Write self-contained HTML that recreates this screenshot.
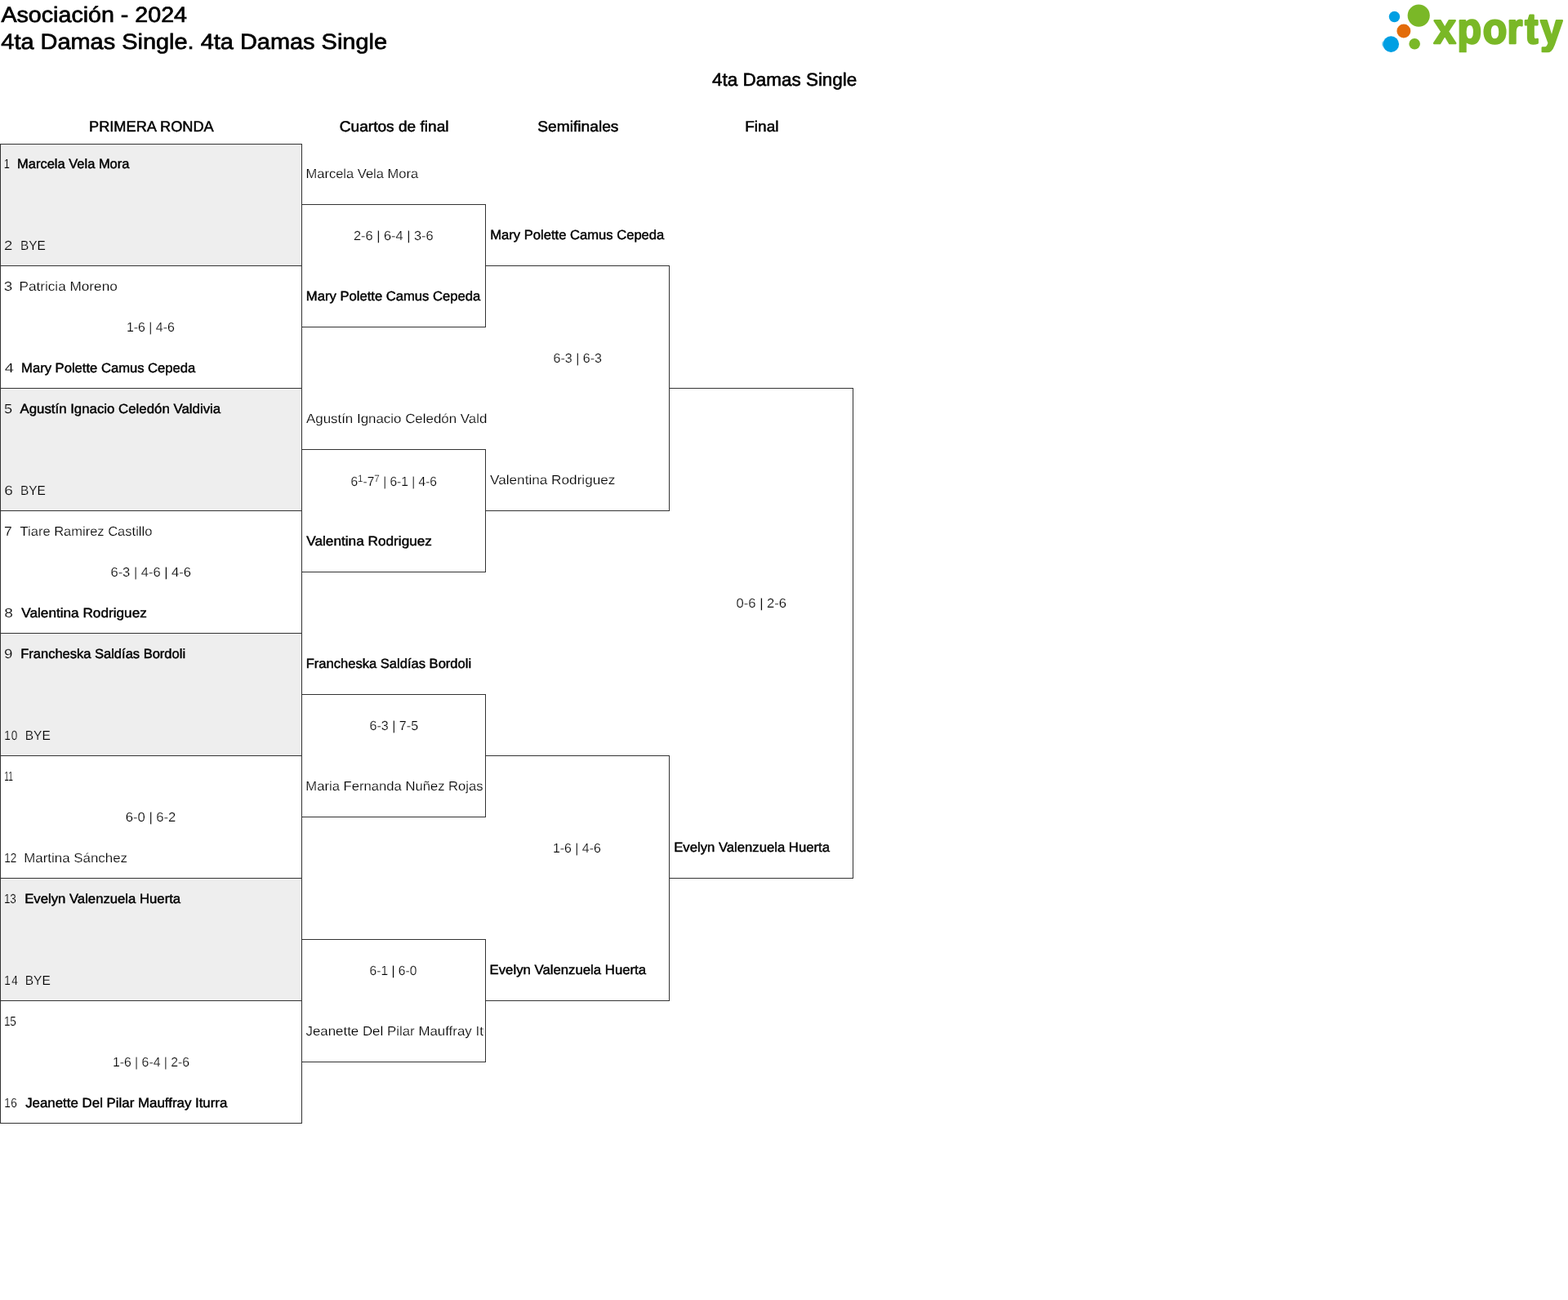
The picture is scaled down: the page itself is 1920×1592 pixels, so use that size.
<!DOCTYPE html>
<html lang="es">
<head>
<meta charset="utf-8">
<title>Asociación - 2024 · 4ta Damas Single</title>
<style>
html,body{margin:0;padding:0;background:#fff;}
body{width:1920px;height:1592px;overflow:hidden;font-family:"Liberation Sans",sans-serif;color:#000;}
#page{will-change:transform;position:relative;width:1920px;height:1592px;overflow:hidden;text-rendering:geometricPrecision;}
.t{position:absolute;white-space:nowrap;line-height:1.25;transform-origin:0 0;font-weight:400;}
.t sup{font-size:75%;line-height:0;position:relative;vertical-align:baseline;top:-0.45em;}
.clip{position:absolute;overflow:hidden;}
.ln{position:absolute;background:#333;}
.bg{position:absolute;background:#eee;}
</style>
</head>
<body>
<div id="page">
<header>
<svg id="logo" width="240" height="75" viewBox="1680 0 240 75" style="position:absolute;left:1680px;top:0">
<title>xporty</title>
<defs><clipPath id="lc"><rect x="1740" y="0" width="180" height="64.2"/></clipPath></defs>
<circle cx="1737.2" cy="19.1" r="13.6" fill="#7ab827"/>
<circle cx="1707.45" cy="20.55" r="6.7" fill="#009fe3"/>
<circle cx="1718.85" cy="38" r="8.45" fill="#e36c0a"/>
<ellipse cx="1693.7" cy="53.8" rx="1.5" ry="3.3" fill="#009fe3" opacity="0.45"/>
<circle cx="1703.25" cy="54.1" r="9.85" fill="#009fe3"/>
<circle cx="1732.15" cy="53.75" r="6.8" fill="#7ab827"/>
<g clip-path="url(#lc)"><text transform="translate(0.00,0) scale(0.92,1)" x="1908.55 1939.67 1973.77 2005.89 2029.64 2050.23" y="52.7" font-family="Liberation Sans, sans-serif" font-weight="700" font-size="52.5" fill="#7ab827" stroke="#7ab827" stroke-width="2.6" stroke-linejoin="round" stroke-linecap="round">xporty</text></g>
</svg>
<div class="t title" style="left:1px;top:2px;font-size:26.59px;-webkit-text-stroke:0.7px #000;transform:matrix(1.0771,0,0,1,0.46,0)">Asociación - 2024</div>
<div class="t title" style="left:1px;top:35px;font-size:26.59px;-webkit-text-stroke:0.7px #000;transform:matrix(1.0884,0,0,1,0.29,0)">4ta Damas Single. 4ta Damas Single</div>
<div class="t ctitle" style="left:872px;top:84px;font-size:22.26px;-webkit-text-stroke:0.6px #000;transform:matrix(1.0093,0,0,1,0.07,0)">4ta Damas Single</div>
</header>
<main class="bracket">
<section class="round round-1">
<div class="bg" style="left:0;top:176px;width:370px;height:150px"></div>
<div class="bg" style="left:0;top:476px;width:370px;height:150px"></div>
<div class="bg" style="left:0;top:776px;width:370px;height:150px"></div>
<div class="bg" style="left:0;top:1076px;width:370px;height:150px"></div>
<div class="ln" style="left:0px;top:176px;width:370px;height:1px"></div>
<div class="ln" style="left:0px;top:325px;width:370px;height:1px"></div>
<div class="ln" style="left:0px;top:475px;width:370px;height:1px"></div>
<div class="ln" style="left:0px;top:625px;width:370px;height:1px"></div>
<div class="ln" style="left:0px;top:775px;width:370px;height:1px"></div>
<div class="ln" style="left:0px;top:925px;width:370px;height:1px"></div>
<div class="ln" style="left:0px;top:1075px;width:370px;height:1px"></div>
<div class="ln" style="left:0px;top:1225px;width:370px;height:1px"></div>
<div class="ln" style="left:0px;top:1375px;width:370px;height:1px"></div>
<div class="ln" style="left:0px;top:176px;width:1px;height:1200px"></div>
<div class="ln" style="left:369px;top:176px;width:1px;height:1200px"></div>
<div class="t hdr" style="left:109px;top:144px;font-size:18.26px;-webkit-text-stroke:0.5px #000;transform:matrix(0.9973,0,0,1,0.02,0)">PRIMERA RONDA</div>
<div class="t num" style="left:4px;top:192px;font-size:16.0px;-webkit-text-stroke:0.2px #eee;transform:matrix(0.8014,0,0,1,0.77,0)">1</div>
<div class="t name" style="left:21px;top:191px;font-size:16.25px;-webkit-text-stroke:0.45px #000;transform:matrix(1.0136,0,0,1,0.09,0)">Marcela Vela Mora</div>
<div class="t num" style="left:5px;top:292px;font-size:16.0px;-webkit-text-stroke:0.2px #eee;transform:matrix(1.1546,0,0,1,0.07,0)">2</div>
<div class="t name" style="left:24px;top:292px;font-size:16.0px;-webkit-text-stroke:0.2px #eee;transform:matrix(0.9633,0,0,1,0.89,0)">BYE</div>
<div class="t num" style="left:4px;top:342px;font-size:16.0px;-webkit-text-stroke:0.2px #fff;transform:matrix(1.1795,0,0,1,0.72,0)">3</div>
<div class="t name" style="left:23px;top:342px;font-size:16.0px;-webkit-text-stroke:0.2px #fff;transform:matrix(1.0733,0,0,1,0.47,0)">Patricia Moreno</div>
<div class="t num" style="left:5px;top:442px;font-size:16.0px;-webkit-text-stroke:0.2px #fff;transform:matrix(1.2493,0,0,1,0.78,0)">4</div>
<div class="t name" style="left:26px;top:441px;font-size:16.25px;-webkit-text-stroke:0.45px #000;transform:matrix(1.0220,0,0,1,0.07,0)">Mary Polette Camus Cepeda</div>
<div class="t num" style="left:5px;top:492px;font-size:16.0px;-webkit-text-stroke:0.2px #eee;transform:matrix(1.1307,0,0,1,0.06,0)">5</div>
<div class="t name" style="left:24px;top:491px;font-size:16.25px;-webkit-text-stroke:0.45px #000;transform:matrix(1.0355,0,0,1,0.44,0)">Agustín Ignacio Celedón Valdivia</div>
<div class="t num" style="left:5px;top:592px;font-size:16.0px;-webkit-text-stroke:0.2px #eee;transform:matrix(1.1889,0,0,1,0.34,0)">6</div>
<div class="t name" style="left:24px;top:592px;font-size:16.0px;-webkit-text-stroke:0.2px #eee;transform:matrix(0.9633,0,0,1,0.89,0)">BYE</div>
<div class="t num" style="left:5px;top:642px;font-size:16.0px;-webkit-text-stroke:0.2px #fff;transform:matrix(1.1057,0,0,1,0.07,0)">7</div>
<div class="t name" style="left:24px;top:642px;font-size:16.0px;-webkit-text-stroke:0.2px #fff;transform:matrix(1.0318,0,0,1,0.56,0)">Tiare Ramirez Castillo</div>
<div class="t num" style="left:5px;top:742px;font-size:16.0px;-webkit-text-stroke:0.2px #fff;transform:matrix(1.2026,0,0,1,0.20,0)">8</div>
<div class="t name" style="left:26px;top:741px;font-size:16.25px;-webkit-text-stroke:0.45px #000;transform:matrix(1.0579,0,0,1,0.26,0)">Valentina Rodriguez</div>
<div class="t num" style="left:5px;top:792px;font-size:16.0px;-webkit-text-stroke:0.2px #eee;transform:matrix(1.1681,0,0,1,0.08,0)">9</div>
<div class="t name" style="left:25px;top:791px;font-size:16.25px;-webkit-text-stroke:0.45px #000;transform:matrix(1.0158,0,0,1,0.19,0)">Francheska Saldías Bordoli</div>
<div class="t num" style="left:5px;top:892px;font-size:16.0px;letter-spacing:1.07px;-webkit-text-stroke:0.2px #eee;transform:matrix(0.8500,0,0,1,0.21,0)">10</div>
<div class="t name" style="left:30px;top:892px;font-size:16.0px;-webkit-text-stroke:0.2px #eee;transform:matrix(0.9702,0,0,1,0.73,0)">BYE</div>
<div class="t num" style="left:5px;top:942px;font-size:16.0px;letter-spacing:-0.04px;-webkit-text-stroke:0.2px #fff;transform:matrix(0.6400,0,0,1,0.36,0)">11</div>
<div class="t num" style="left:5px;top:1042px;font-size:16.0px;letter-spacing:0.01px;-webkit-text-stroke:0.2px #fff;transform:matrix(0.8500,0,0,1,0.19,0)">12</div>
<div class="t name" style="left:29px;top:1042px;font-size:16.0px;-webkit-text-stroke:0.2px #fff;transform:matrix(1.0559,0,0,1,0.26,0)">Martina Sánchez</div>
<div class="t num" style="left:5px;top:1092px;font-size:16.0px;letter-spacing:-0.48px;-webkit-text-stroke:0.2px #eee;transform:matrix(0.8500,0,0,1,0.07,0)">13</div>
<div class="t name" style="left:30px;top:1091px;font-size:16.25px;-webkit-text-stroke:0.45px #000;transform:matrix(1.0278,0,0,1,0.18,0)">Evelyn Valenzuela Huerta</div>
<div class="t num" style="left:5px;top:1192px;font-size:16.0px;letter-spacing:1.75px;-webkit-text-stroke:0.2px #eee;transform:matrix(0.8500,0,0,1,0.19,0)">14</div>
<div class="t name" style="left:30px;top:1192px;font-size:16.0px;-webkit-text-stroke:0.2px #eee;transform:matrix(0.9702,0,0,1,0.73,0)">BYE</div>
<div class="t num" style="left:5px;top:1242px;font-size:16.0px;letter-spacing:-0.32px;-webkit-text-stroke:0.2px #fff;transform:matrix(0.8500,0,0,1,0.03,0)">15</div>
<div class="t num" style="left:5px;top:1342px;font-size:16.0px;letter-spacing:0.69px;-webkit-text-stroke:0.2px #fff;transform:matrix(0.8500,0,0,1,0.19,0)">16</div>
<div class="t name" style="left:31px;top:1341px;font-size:16.25px;-webkit-text-stroke:0.45px #000;transform:matrix(1.0381,0,0,1,0.16,0)">Jeanette Del Pilar Mauffray Iturra</div>
<div class="t score" style="left:154px;top:392px;font-size:16.0px;-webkit-text-stroke:0.2px #fff;transform:matrix(0.9922,0,0,1,0.92,0)">1-6 | 4-6</div>
<div class="t score" style="left:135px;top:692px;font-size:16.0px;-webkit-text-stroke:0.2px #fff;transform:matrix(1.0311,0,0,1,0.45,0)">6-3 | 4-6 | 4-6</div>
<div class="t score" style="left:153px;top:992px;font-size:16.0px;-webkit-text-stroke:0.2px #fff;transform:matrix(1.0387,0,0,1,0.74,0)">6-0 | 6-2</div>
<div class="t score" style="left:137px;top:1292px;font-size:16.0px;-webkit-text-stroke:0.2px #fff;transform:matrix(0.9864,0,0,1,0.92,0)">1-6 | 6-4 | 2-6</div>
</section>
<section class="round round-2">
<div class="ln" style="left:370px;top:250px;width:225px;height:1px"></div>
<div class="ln" style="left:370px;top:400px;width:225px;height:1px"></div>
<div class="ln" style="left:594px;top:250px;width:1px;height:151px"></div>
<div class="ln" style="left:370px;top:550px;width:225px;height:1px"></div>
<div class="ln" style="left:370px;top:700px;width:225px;height:1px"></div>
<div class="ln" style="left:594px;top:550px;width:1px;height:151px"></div>
<div class="ln" style="left:370px;top:850px;width:225px;height:1px"></div>
<div class="ln" style="left:370px;top:1000px;width:225px;height:1px"></div>
<div class="ln" style="left:594px;top:850px;width:1px;height:151px"></div>
<div class="ln" style="left:370px;top:1150px;width:225px;height:1px"></div>
<div class="ln" style="left:370px;top:1300px;width:225px;height:1px"></div>
<div class="ln" style="left:594px;top:1150px;width:1px;height:151px"></div>
<div class="t hdr" style="left:415px;top:144px;font-size:18.26px;-webkit-text-stroke:0.5px #000;transform:matrix(1.0460,0,0,1,0.79,0)">Cuartos de final</div>
<div class="t name" style="left:374px;top:204px;font-size:16.0px;-webkit-text-stroke:0.2px #fff;transform:matrix(1.0329,0,0,1,0.45,0)">Marcela Vela Mora</div>
<div class="t score" style="left:432px;top:280px;font-size:16.0px;-webkit-text-stroke:0.2px #fff;transform:matrix(1.0230,0,0,1,0.94,0)">2-6 | 6-4 | 3-6</div>
<div class="t name" style="left:374px;top:353px;font-size:16.25px;-webkit-text-stroke:0.45px #000;transform:matrix(1.0232,0,0,1,0.81,0)">Mary Polette Camus Cepeda</div>
<div class="clip" style="left:374px;top:504px;width:221.50px;height:20.8px"><div class="t name" style="left:0;top:0;font-size:16.0px;-webkit-text-stroke:0.2px #fff;transform:matrix(1.0562,0,0,1,0.96,0)">Agustín Ignacio Celedón Valdivia</div></div>
<div class="t score" style="left:429px;top:581px;font-size:16.0px;-webkit-text-stroke:0.2px #fff;transform:matrix(0.9697,0,0,1,0.42,0)">6<sup>1</sup>-7<sup>7</sup> | 6-1 | 4-6</div>
<div class="t name" style="left:375px;top:653px;font-size:16.25px;-webkit-text-stroke:0.45px #000;transform:matrix(1.0588,0,0,1,0.27,0)">Valentina Rodriguez</div>
<div class="t name" style="left:374px;top:803px;font-size:16.25px;-webkit-text-stroke:0.45px #000;transform:matrix(1.0187,0,0,1,0.69,0)">Francheska Saldías Bordoli</div>
<div class="t score" style="left:452px;top:880px;font-size:16.0px;-webkit-text-stroke:0.2px #fff;transform:matrix(1.0052,0,0,1,0.47,0)">6-3 | 7-5</div>
<div class="t name" style="left:374px;top:954px;font-size:16.0px;-webkit-text-stroke:0.2px #fff;transform:matrix(1.0395,0,0,1,0.36,0)">Maria Fernanda Nuñez Rojas</div>
<div class="t score" style="left:452px;top:1180px;font-size:16.0px;-webkit-text-stroke:0.2px #fff;transform:matrix(0.9746,0,0,1,0.53,0)">6-1 | 6-0</div>
<div class="clip" style="left:374px;top:1254px;width:218.60px;height:20.8px"><div class="t name" style="left:0;top:0;font-size:16.0px;-webkit-text-stroke:0.2px #fff;transform:matrix(1.0551,0,0,1,0.45,0)">Jeanette Del Pilar Mauffray Iturra</div></div>
</section>
<section class="round round-3">
<div class="ln" style="left:595px;top:325px;width:225px;height:1px"></div>
<div class="ln" style="left:595px;top:625px;width:225px;height:1px"></div>
<div class="ln" style="left:819px;top:325px;width:1px;height:301px"></div>
<div class="ln" style="left:595px;top:925px;width:225px;height:1px"></div>
<div class="ln" style="left:595px;top:1225px;width:225px;height:1px"></div>
<div class="ln" style="left:819px;top:925px;width:1px;height:301px"></div>
<div class="t hdr" style="left:658px;top:144px;font-size:18.26px;-webkit-text-stroke:0.5px #000;transform:matrix(1.0515,0,0,1,0.25,0)">Semifinales</div>
<div class="t name" style="left:600px;top:278px;font-size:16.25px;-webkit-text-stroke:0.45px #000;transform:matrix(1.0214,0,0,1,0.20,0)">Mary Polette Camus Cepeda</div>
<div class="t score" style="left:677px;top:430px;font-size:16.0px;-webkit-text-stroke:0.2px #fff;transform:matrix(0.9997,0,0,1,0.62,0)">6-3 | 6-3</div>
<div class="t name" style="left:599px;top:579px;font-size:16.0px;-webkit-text-stroke:0.2px #fff;transform:matrix(1.0737,0,0,1,0.98,0)">Valentina Rodriguez</div>
<div class="t score" style="left:676px;top:1030px;font-size:16.0px;-webkit-text-stroke:0.2px #fff;transform:matrix(0.9922,0,0,1,0.92,0)">1-6 | 4-6</div>
<div class="t name" style="left:599px;top:1178px;font-size:16.25px;-webkit-text-stroke:0.45px #000;transform:matrix(1.0310,0,0,1,0.55,0)">Evelyn Valenzuela Huerta</div>
</section>
<section class="round round-4">
<div class="ln" style="left:820px;top:475px;width:225px;height:1px"></div>
<div class="ln" style="left:820px;top:1075px;width:225px;height:1px"></div>
<div class="ln" style="left:1044px;top:475px;width:1px;height:601px"></div>
<div class="t hdr" style="left:912px;top:144px;font-size:18.26px;-webkit-text-stroke:0.5px #000;transform:matrix(1.0417,0,0,1,0.26,0)">Final</div>
<div class="t score" style="left:901px;top:730px;font-size:16.0px;-webkit-text-stroke:0.2px #fff;transform:matrix(1.0372,0,0,1,0.58,0)">0-6 | 2-6</div>
<div class="t name" style="left:825px;top:1028px;font-size:16.25px;-webkit-text-stroke:0.45px #000;transform:matrix(1.0269,0,0,1,0.18,0)">Evelyn Valenzuela Huerta</div>
</section>
</main>
</div>
</body>
</html>
